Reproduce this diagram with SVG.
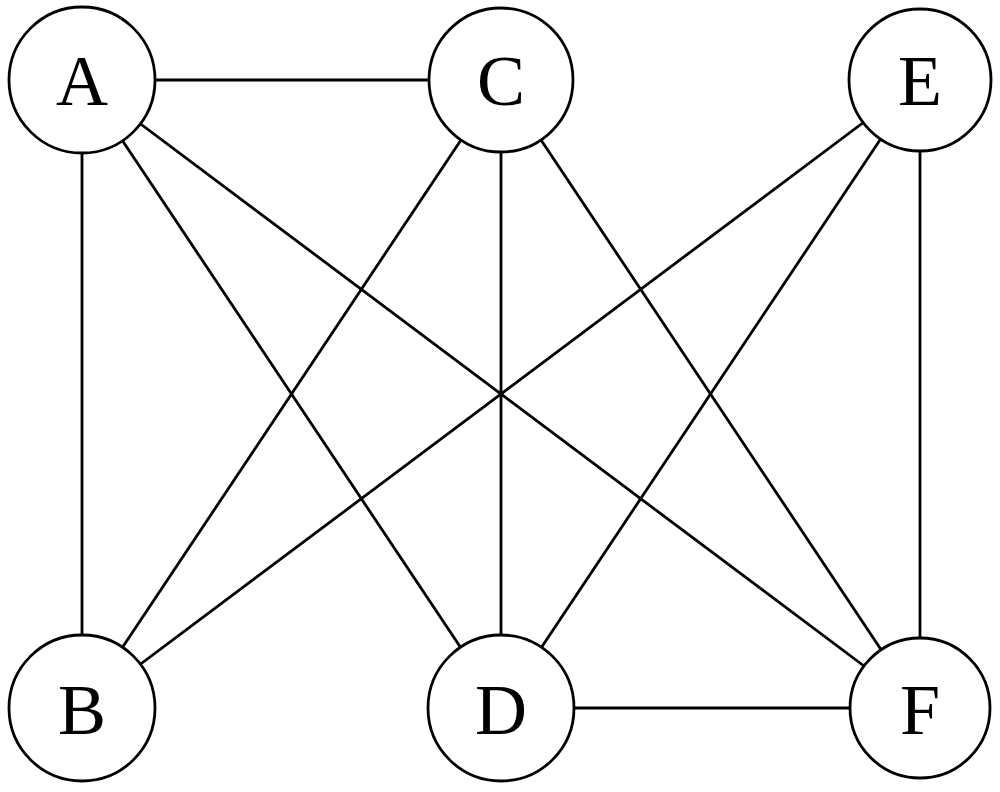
<svg xmlns="http://www.w3.org/2000/svg" width="1000" height="792" viewBox="0 0 1000 792">
<style>
.e{stroke:#000;stroke-width:2.8;fill:none}
.n circle{fill:#fff;stroke:#000;stroke-width:2.8}
.n text{font-family:"Liberation Serif",serif;font-size:72px;text-anchor:middle;fill:#000}
</style>
<rect width="1000" height="792" fill="#fff"/>
<g id="edges" class="e">
<line x1="82" y1="80" x2="501" y2="80"/>
<line x1="82" y1="80" x2="82" y2="708"/>
<line x1="82" y1="80" x2="501" y2="708"/>
<line x1="82" y1="80" x2="920" y2="708"/>
<line x1="501" y1="80" x2="82" y2="708"/>
<line x1="501" y1="80" x2="501" y2="708"/>
<line x1="501" y1="80" x2="920" y2="708"/>
<line x1="920" y1="80" x2="82" y2="708"/>
<line x1="920" y1="80" x2="501" y2="708"/>
<line x1="920" y1="80" x2="920" y2="708"/>
<line x1="501" y1="708" x2="920" y2="708"/>
</g>
<g id="A" class="n"><circle cx="82" cy="80" r="73"/><text x="82" y="105">A</text></g>
<g id="C" class="n"><circle cx="501" cy="80" r="72"/><text x="501" y="105">C</text></g>
<g id="E" class="n"><circle cx="920" cy="80" r="71"/><text x="920" y="105">E</text></g>
<g id="B" class="n"><circle cx="82" cy="708" r="73"/><text x="82" y="734">B</text></g>
<g id="D" class="n"><circle cx="501" cy="708" r="73"/><text x="501" y="734">D</text></g>
<g id="F" class="n"><circle cx="920" cy="708" r="70"/><text x="920" y="734">F</text></g>
</svg>
